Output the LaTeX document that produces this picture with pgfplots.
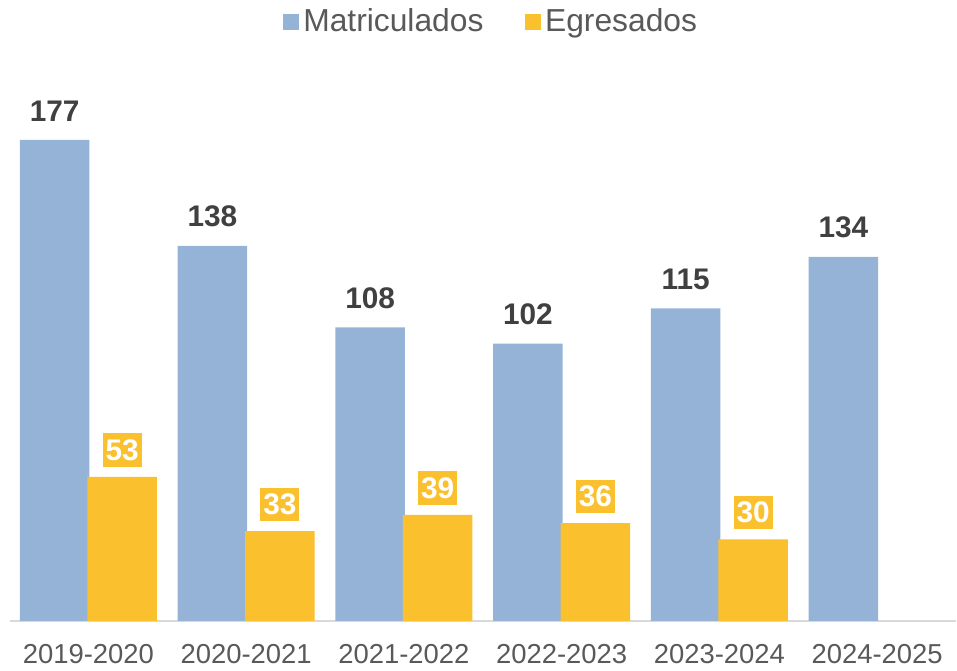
\documentclass[border=0pt]{standalone}
\usepackage{fontspec}
\setmainfont{Liberation Sans}
\usepackage{pgfplots}
\pgfplotsset{compat=1.18}
\definecolor{matblue}{RGB}{149,179,215}
\definecolor{egyellow}{RGB}{251,192,45}
\definecolor{txtgray}{RGB}{89,89,89}
\definecolor{lblgray}{RGB}{64,64,64}
\definecolor{axgray}{RGB}{217,217,217}
\begin{document}
\begin{tikzpicture}
\begin{axis}[
  scale only axis,
  width=476.4pt, height=265pt,
  xmin=-0.5, xmax=5.5,
  ymin=0, ymax=193.8,
  ybar=-1pt, bar width=35pt,
  axis x line*=bottom,
  axis y line=none,
  axis line style={draw=axgray, line width=1pt},
  tick style={draw=none},
  /pgf/number format/assume math mode=true,
  xtick={0,1,2,3,4,5},
  xticklabels={2019-2020,2020-2021,2021-2022,2022-2023,2023-2024,2024-2025},
  xticklabel style={font=\fontsize{13.8}{16}\selectfont, text=txtgray, yshift=-4pt},
  legend style={draw=none, fill=none, at={(0.51,1.138)}, anchor=center,
    legend columns=2, font=\fontsize{16}{19}\selectfont, text=txtgray,
    /tikz/every even column/.append style={column sep=19pt}},
  legend image code/.code={\fill[#1] (-4.5pt,-4pt) rectangle (3.5pt,4pt);},
  clip=false,
]
\addplot[fill=matblue, draw=none,
  nodes near coords,
  every node near coord/.append style={font=\bfseries\fontsize{15}{18}\selectfont,
    text=lblgray, yshift=6pt}]
  coordinates {(0,177)(1,138)(2,108)(3,102)(4,115)(5,134)};
\addplot[fill=egyellow, draw=none,
  nodes near coords,
  every node near coord/.append style={font=\bfseries\fontsize{15}{18}\selectfont,
    text=white, fill=egyellow, inner xsep=1.5pt, inner ysep=3pt, yshift=5pt}]
  coordinates {(0,53)(1,33)(2,39)(3,36)(4,30)};
\legend{Matriculados, Egresados}
\end{axis}
\path[use as bounding box] (-4.8pt,-22.5pt) rectangle (473.7pt,312.5pt);
\end{tikzpicture}
\end{document}
